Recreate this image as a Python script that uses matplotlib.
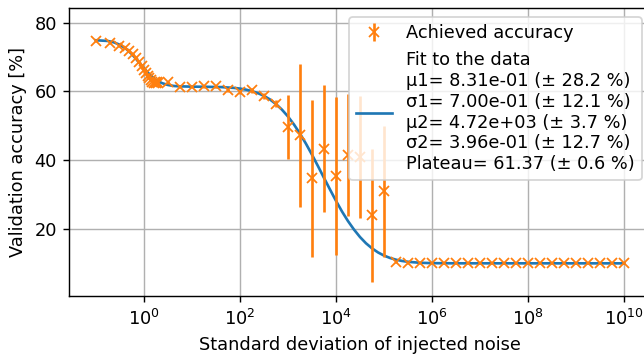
import numpy as np
import matplotlib
matplotlib.use("Agg")
import matplotlib.pyplot as plt

# measured accuracy: linear steps 0.1..2.0, then quarter decades 10^0.5..10^10
noise_lin = [0.1, 0.2, 0.3, 0.4, 0.5, 0.6, 0.7, 0.8, 0.9, 1.0,
             1.1, 1.2, 1.3, 1.4, 1.5, 1.6, 1.7, 1.8, 1.9, 2.0]
noise_log_exp = [0.5, 0.75, 1.0, 1.25, 1.5, 1.75, 2.0, 2.25, 2.5, 2.75,
                 3.0, 3.25, 3.5, 3.75, 4.0, 4.25, 4.5, 4.75, 5.0, 5.25,
                 5.5, 5.75, 6.0, 6.25, 6.5, 6.75, 7.0, 7.25, 7.5, 7.75,
                 8.0, 8.25, 8.5, 8.75, 9.0, 9.25, 9.5, 9.75, 10.0]

acc_lin = [74.6, 74.1, 73.3, 72.6, 71.9, 70.9, 69.8, 68.6, 67.5, 66.3,
           65.4, 64.6, 64.0, 63.4, 62.9, 62.6, 62.8, 62.4, 62.7, 62.5]
acc_log = [62.7, 61.3, 61.3, 61.5, 61.5, 60.3, 59.8, 60.3, 58.7, 56.4,
           49.7, 47.2, 34.7, 43.4, 35.4, 41.5, 41.0, 24.0, 31.0, 10.5,
           10.0, 10.0, 10.0, 10.0, 10.0, 10.0, 10.0, 10.0, 10.0, 10.0,
           10.0, 10.0, 10.0, 10.0, 10.0, 10.0, 10.0, 10.0, 10.0]

err_lin = [0.3] * 20
err_log = [0.4, 0.4, 0.4, 0.4, 0.4, 0.5, 0.5, 0.6, 0.8, 1.0,
           9.2, 20.8, 22.8, 18.6, 23.0, 17.7, 17.8, 19.4, 19.1, 0.3,
           0.2, 0.2, 0.2, 0.2, 0.2, 0.2, 0.2, 0.2, 0.2, 0.2,
           0.2, 0.2, 0.2, 0.2, 0.2, 0.2, 0.2, 0.2, 0.2]

# fitted curve (log10 of noise, accuracy)
fit_logx = [-1.0, -0.875, -0.75, -0.625, -0.5, -0.375, -0.25, -0.125, 0.0,
            0.125, 0.25, 0.375, 0.5, 0.625, 0.75, 1.0, 1.25, 1.5, 1.625,
            1.75, 1.875, 2.0, 2.125, 2.25, 2.375, 2.5, 2.625, 2.75, 2.875,
            3.0, 3.125, 3.25, 3.375, 3.5, 3.625, 3.75, 3.875, 4.0, 4.125,
            4.25, 4.375, 4.5, 4.625, 4.75, 4.875, 5.0, 5.125, 5.25, 5.375,
            5.5, 5.75, 6.0, 6.5, 10.0]
fit_acc = [74.9, 74.8, 74.7, 74.3, 73.6, 72.5, 70.9, 68.9, 66.8,
           64.9, 63.4, 62.45, 61.9, 61.6, 61.5, 61.4, 61.37, 61.3, 61.27,
           61.15, 61.05, 60.84, 60.54, 60.1, 59.52, 58.73, 57.69, 56.36, 54.72,
           52.74, 50.41, 47.76, 44.81, 41.63, 38.3, 34.88, 31.5, 28.2, 25.1,
           22.3, 19.83, 17.66, 15.84, 14.37, 13.18, 12.26, 11.57, 11.06, 10.7,
           10.45, 10.17, 10.06, 10.01, 10.0]

fit_label = ("Fit to the data\n"
             "μ1= 8.31e-01 (± 28.2 %)\n"
             "σ1= 7.00e-01 (± 12.1 %)\n"
             "μ2= 4.72e+03 (± 3.7 %)\n"
             "σ2= 3.96e-01 (± 12.7 %)\n"
             "Plateau= 61.37 (± 0.6 %)")

noise = np.array(noise_lin + [10 ** e for e in noise_log_exp])
acc = np.array(acc_lin + acc_log)
err = np.array(err_lin + err_log)
fit_x = 10 ** np.array(fit_logx)

fig = plt.figure(figsize=(644 / 128, 354 / 128), dpi=128)
ax = fig.add_axes([0.1076, 0.1638, 1.0104 - 0.1076, 0.9766 - 0.1638])

fit_line, = ax.plot(fit_x, fit_acc, color="C0", label=fit_label)
eb = ax.errorbar(noise, acc, yerr=err, fmt="x", color="C1",
                 label="Achieved accuracy")

ax.set_xscale("log")
ax.set_ylim(0.5, 84.2)
ax.set_xlabel("Standard deviation of injected noise")
ax.set_ylabel("Validation accuracy [%]")
ax.grid(True)
ax.legend(handles=[eb, fit_line], loc="upper right")

fig.savefig("out.png", dpi=128)
